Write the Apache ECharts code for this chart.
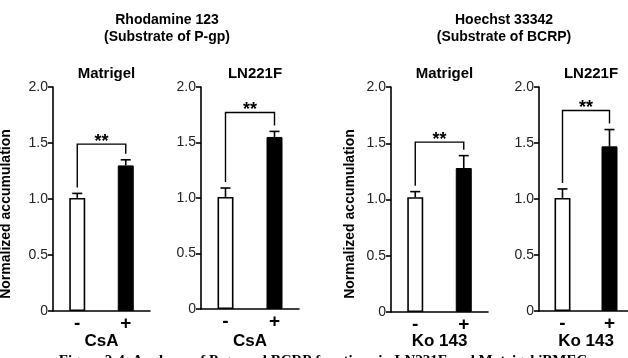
<!DOCTYPE html>
<html>
<head>
<meta charset="utf-8">
<script src="https://cdn.jsdelivr.net/npm/echarts@6/dist/echarts.min.js"></script>
<style>
  html, body { margin: 0; padding: 0; background: #ffffff; }
  #main { width: 628px; height: 358px; }
</style>
</head>
<body>
<div id="main"></div>
<script>
// data
const groupTitles = ['Rhodamine 123', 'Hoechst 33342'];
const groupSubtitles = ['(Substrate of P-gp)', '(Substrate of BCRP)'];
const panelTitles = ['Matrigel', 'LN221F', 'Matrigel', 'LN221F'];
const treatments = ['-', '+'];
const inhibitors = ['CsA', 'CsA', 'Ko 143', 'Ko 143'];
const meanValues = [[1.01, 1.30], [1.01, 1.55], [1.02, 1.28], [1.01, 1.47]];
const errValues = [[0.04, 0.05], [0.08, 0.05], [0.05, 0.11], [0.08, 0.15]];
const bracketLevels = [1.49, 1.77, 1.51, 1.79];
const significance = ['**', '**', '**', '**'];
const yTickLabels = ['0', '0.5', '1.0', '1.5', '2.0'];
const yTitle = 'Normalized accumulation';
const caption = 'Figure 2-4. Analyses of P-gp and BCRP functions in LN221F and Matrigel iBMECs';

const FONT = "'Liberation Sans', Arial, sans-serif";

// where each panel sits
const panels = [
    { left: 53, top: 87, width: 97, height: 224 },
    { left: 201, top: 87, width: 98, height: 222 },
    { left: 391, top: 87, width: 97, height: 225 },
    { left: 539, top: 87, width: 94, height: 224 }
];

var chartDom = document.getElementById('main');
var myChart = echarts.init(chartDom, null, { renderer: 'canvas' });

const grid = [], xAxis = [], yAxis = [], series = [], title = [];

panels.forEach((p, i) => {
    grid.push({
        left: p.left, top: p.top, width: p.width, height: p.height,
        containLabel: false,
        outerBoundsMode: 'none'
    });

    title.push({
        text: panelTitles[i],
        left: p.left + p.width / 2,
        top: 61,
        textAlign: 'center',
        textStyle: { fontFamily: FONT, fontSize: 15, fontWeight: 'bold', color: '#000' }
    });

    xAxis.push({
        type: 'category',
        gridIndex: i,
        data: treatments,
        name: inhibitors[i],
        nameLocation: 'middle',
        nameMoveOverlap: false,
        nameGap: 22 + (311 - p.top - p.height),
        nameTextStyle: { fontFamily: FONT, fontSize: 17, fontWeight: 'bold', color: '#000' },
        axisLine: { lineStyle: { color: '#000', width: 1.6 } },
        axisTick: { show: false },
        axisLabel: { fontFamily: FONT, fontSize: 19, fontWeight: 'bold', color: '#000', margin: 3 }
    });

    yAxis.push({
        type: 'value',
        gridIndex: i,
        min: 0,
        max: 2,
        interval: 0.5,
        splitLine: { show: false },
        axisLine: { show: true, lineStyle: { color: '#000', width: 1.6 } },
        axisTick: { show: true, length: 5, lineStyle: { color: '#000', width: 1.6 } },
        axisLabel: {
            fontFamily: FONT, fontSize: 14, color: '#222', margin: 5,
            formatter: v => yTickLabels[Math.round(v / 0.5)]
        }
    });

    series.push({
        type: 'bar',
        xAxisIndex: i,
        yAxisIndex: i,
        barWidth: 16,
        data: meanValues[i].map((v, k) => ({
            value: v,
            itemStyle: k === 0
                ? { color: '#ffffff', borderColor: '#000', borderWidth: 1.6 }
                : { color: '#000000', borderColor: '#000', borderWidth: 1 }
        })),
        silent: true
    });

    // error bars, upper half only
    series.push({
        type: 'custom',
        xAxisIndex: i,
        yAxisIndex: i,
        data: meanValues[i].map((v, k) => [k, v, errValues[i][k]]),
        renderItem: function (params, api) {
            var base = api.coord([api.value(0), api.value(1)]);
            var top = api.coord([api.value(0), api.value(1) + api.value(2)]);
            var st = { stroke: '#000', lineWidth: 1.6 };
            return {
                type: 'group',
                children: [
                    { type: 'line', shape: { x1: base[0], y1: base[1], x2: top[0], y2: top[1] }, style: st },
                    { type: 'line', shape: { x1: top[0] - 5, y1: top[1], x2: top[0] + 5, y2: top[1] }, style: st }
                ]
            };
        },
        silent: true,
        z: 1
    });

    // significance bracket
    series.push({
        type: 'custom',
        xAxisIndex: i,
        yAxisIndex: i,
        data: [[bracketLevels[i],
                meanValues[i][0] + errValues[i][0],
                meanValues[i][1] + errValues[i][1]]],
        renderItem: function (params, api) {
            var lvl = api.value(0);
            var a = api.coord([0, lvl]);
            var b = api.coord([1, lvl]);
            var aEnd = api.coord([0, api.value(1)])[1] - 6;
            var bEnd = api.coord([1, api.value(2)])[1] - 6;
            return {
                type: 'group',
                children: [
                    {
                        type: 'polyline',
                        shape: { points: [[a[0], aEnd], [a[0], a[1]], [b[0], b[1]], [b[0], bEnd]] },
                        style: { stroke: '#000', lineWidth: 1.4, fill: null }
                    },
                    {
                        type: 'text',
                        x: (a[0] + b[0]) / 2,
                        y: a[1] - 2,
                        style: {
                            text: significance[i],
                            font: 'bold 18px ' + FONT,
                            fill: '#000',
                            textAlign: 'center',
                            textVerticalAlign: 'middle'
                        }
                    }
                ]
            };
        },
        silent: true
    });
});

// group headings above the two pairs of panels
const headingX = [162, 499];
groupTitles.forEach((t, g) => {
    title.push({
        text: t + '\n' + groupSubtitles[g],
        left: headingX[g],
        top: 7,
        textAlign: 'center',
        textStyle: { fontFamily: FONT, fontSize: 14, fontWeight: 'bold', color: '#000', lineHeight: 17 }
    });
});

var option = {
    animation: false,
    backgroundColor: '#ffffff',
    title: title,
    grid: grid,
    xAxis: xAxis,
    yAxis: yAxis,
    series: series,
    graphic: [
        {
            type: 'text', x: 6, y: 214, rotation: Math.PI / 2,
            style: { text: yTitle, font: 'bold 14px ' + FONT, fill: '#000', textAlign: 'center', textVerticalAlign: 'middle' }
        },
        {
            type: 'text', x: 350, y: 214, rotation: Math.PI / 2,
            style: { text: yTitle, font: 'bold 14px ' + FONT, fill: '#000', textAlign: 'center', textVerticalAlign: 'middle' }
        },
        {
            type: 'text', x: 326, y: 354,
            style: { text: caption, font: "bold 15px 'Liberation Serif', 'Times New Roman', serif", fill: '#000', textAlign: 'center', textVerticalAlign: 'top' }
        }
    ]
};

option && myChart && myChart.setOption(option);
</script>
</body>
</html>
